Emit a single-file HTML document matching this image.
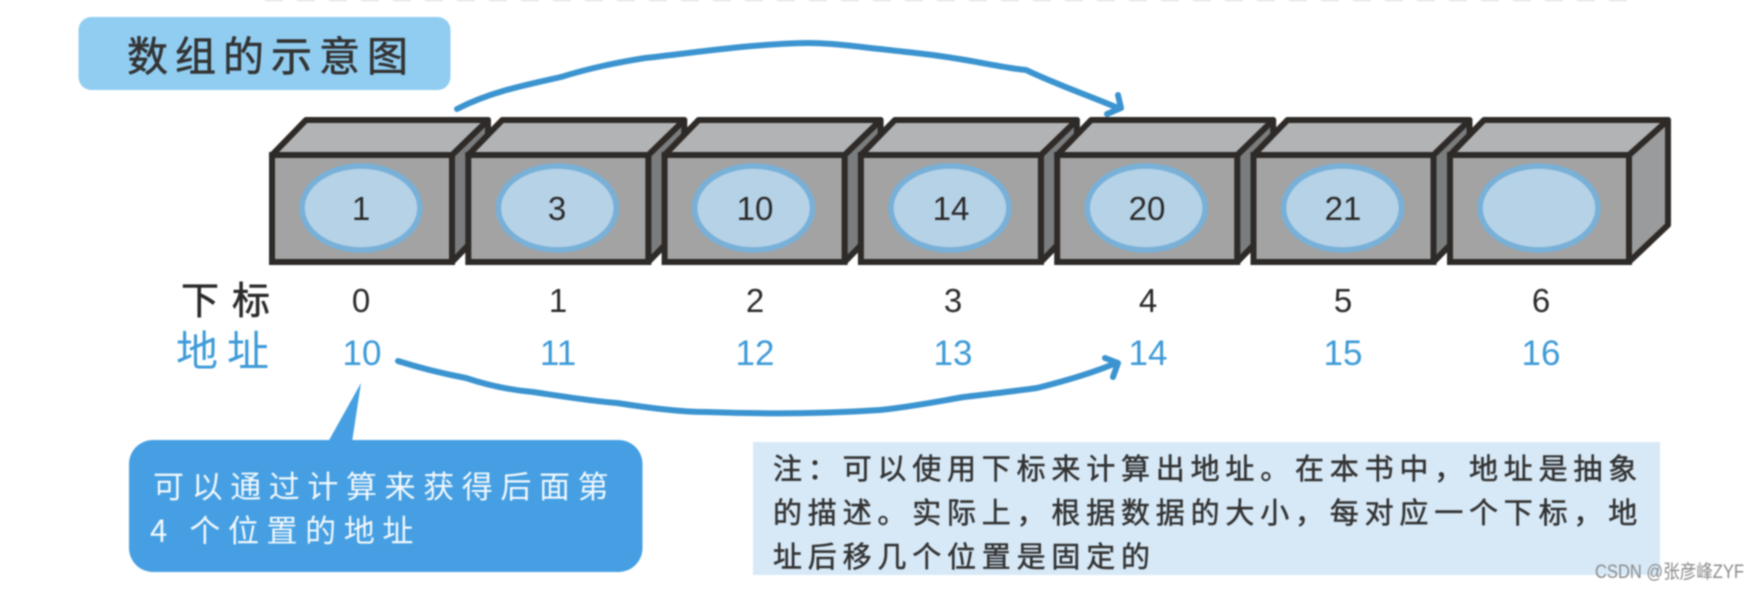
<!DOCTYPE html>
<html lang="zh"><head><meta charset="utf-8"><title>数组的示意图</title>
<style>
html,body{margin:0;padding:0;background:#fff;width:1759px;height:590px;overflow:hidden}
svg{display:block;filter:blur(.8px)}
text{font-family:"Liberation Sans","WenQuanYi Zen Hei","Noto Sans CJK SC",sans-serif}
.cjk{font-family:"WenQuanYi Zen Hei","Noto Sans CJK SC",sans-serif}
.d{font-size:33px;text-anchor:middle;fill:#2c2a29}
.a{font-size:35px;text-anchor:middle;fill:#3d9ad8}
.n{font-size:29px;fill:#333;stroke:#333;stroke-width:.5px;letter-spacing:5.8px}
.w{font-size:31px;fill:#f2f8fd;letter-spacing:7.6px}
</style></head><body>
<svg width="1759" height="590" viewBox="0 0 1759 590" xmlns="http://www.w3.org/2000/svg">
<defs>
<g id="box">
<polygon points="452,155 488,120 488,225 452,262" fill="#7a7c7d" stroke="#2e2a28" stroke-width="6" stroke-linejoin="round"/>
<polygon points="272,155 306,120 488,120 452,155" fill="#b2b3b5" stroke="#2e2a28" stroke-width="6" stroke-linejoin="round"/>
<rect x="272" y="155" width="180" height="107" fill="#a3a3a3" stroke="#2e2a28" stroke-width="6"/>
<ellipse cx="361" cy="208" rx="59" ry="42" fill="#b5d2e7" stroke="#78b0d8" stroke-width="5.5"/>
</g>
</defs>
<rect width="1759" height="590" fill="#fff"/>
<line x1="265" y1="0" x2="1630" y2="0" stroke="#d8d8d8" stroke-width="2" stroke-dasharray="18 14"/>

<rect x="78.5" y="17" width="372" height="73" rx="13" fill="#90cdf1"/>
<text class="cjk" x="127" y="71" font-size="41" fill="#333" stroke="#333" stroke-width=".6" letter-spacing="7">数组的示意图</text>

<path d="M457 109 C490 92 525 85 561 77 C590 68 615 63 645 58 C700 52 750 44 808 43 C835 43 860 47 880 49 C905 52 930 54 953 58 C980 62 1005 68 1026 70 C1060 86 1090 96 1118 108" fill="none" stroke="#3b94d0" stroke-width="6" stroke-linecap="round"/>
<path d="M1118 95 L1121 108 L1107 114" fill="none" stroke="#3b94d0" stroke-width="6" stroke-linecap="round" stroke-linejoin="round"/>

<use href="#box"/>
<use href="#box" x="196.3"/>
<use href="#box" x="392.6"/>
<use href="#box" x="588.9"/>
<use href="#box" x="785.2"/>
<use href="#box" x="981.5"/>
<polygon points="1629,155 1668,120 1668,225 1629,262" fill="#9a9b9c" stroke="#2e2a28" stroke-width="6" stroke-linejoin="round"/>
<polygon points="1450,155 1484,120 1668,120 1629,155" fill="#b2b3b5" stroke="#2e2a28" stroke-width="6" stroke-linejoin="round"/>
<rect x="1450" y="155" width="179" height="107" fill="#a3a3a3" stroke="#2e2a28" stroke-width="6"/>
<ellipse cx="1539" cy="208" rx="59" ry="42" fill="#b5d2e7" stroke="#78b0d8" stroke-width="5.5"/>

<g>
<text class="d" x="361" y="220">1</text>
<text class="d" x="557" y="220">3</text>
<text class="d" x="755" y="220">10</text>
<text class="d" x="951" y="220">14</text>
<text class="d" x="1147" y="220">20</text>
<text class="d" x="1343" y="220">21</text>
</g>

<text class="cjk" x="181" y="314" font-size="38" fill="#2c2a29" stroke="#2c2a29" stroke-width=".6" letter-spacing="13">下标</text>
<g>
<text class="d" x="361" y="312">0</text>
<text class="d" x="558" y="312">1</text>
<text class="d" x="755" y="312">2</text>
<text class="d" x="953" y="312">3</text>
<text class="d" x="1148" y="312">4</text>
<text class="d" x="1343" y="312">5</text>
<text class="d" x="1541" y="312">6</text>
</g>

<text class="cjk" x="176" y="366" font-size="42" fill="#3d9ad8" letter-spacing="9">地址</text>
<g>
<text class="a" x="362" y="365">10</text>
<text class="a" x="558" y="365">11</text>
<text class="a" x="755" y="365">12</text>
<text class="a" x="953" y="365">13</text>
<text class="a" x="1148" y="365">14</text>
<text class="a" x="1343" y="365">15</text>
<text class="a" x="1541" y="365">16</text>
</g>

<path d="M398 361 C420 368 445 374 466 378 C490 386 510 390 533 392 C560 396 590 401 617 403 C650 408 680 412 707 412 C760 414 820 414 880 410 C910 407 940 401 964 397 C990 394 1015 391 1037 388 C1065 381 1095 372 1116 363" fill="none" stroke="#3b94d0" stroke-width="6" stroke-linecap="round"/>
<path d="M1105 358 L1118 363 L1113 377" fill="none" stroke="#3b94d0" stroke-width="6" stroke-linecap="round" stroke-linejoin="round"/>

<polygon points="361,383 328,442 352,442" fill="#459fe2"/>
<rect x="129" y="440" width="513.5" height="132" rx="24" fill="#459fe2"/>
<text class="cjk w" x="153" y="498">可以通过计算来获得后面第</text>
<text class="cjk w" x="150" y="542" letter-spacing="7">4 个位置的地址</text>

<rect x="753" y="442" width="907" height="133" fill="#d7e9f7"/>
<text class="cjk n" x="773" y="479">注：可以使用下标来计算出地址。在本书中，地址是抽象</text>
<text class="cjk n" x="773" y="523">的描述。实际上，根据数据的大小，每对应一个下标，地</text>
<text class="cjk n" x="773" y="567">址后移几个位置是固定的</text>

<text x="1595" y="578" font-size="19" fill="#8a8a8a" textLength="149" lengthAdjust="spacingAndGlyphs">CSDN @张彦峰ZYF</text>
</svg>
</body></html>
